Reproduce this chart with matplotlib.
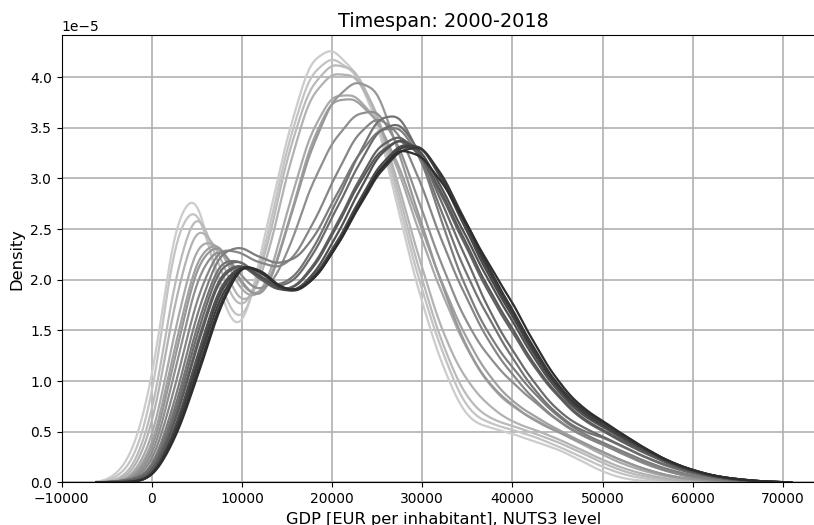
import numpy as np
import matplotlib
matplotlib.use("Agg")
import matplotlib.pyplot as plt
import seaborn as sns

# GDP per inhabitant bins (EUR) and the share of NUTS3 regions per bin,
# one row per year (units of 1e-5 per EUR, before normalisation)
income_bins = np.arange(-5000, 72500, 2500)

w2000 = [0, 0.18, 0.90, 2.62, 2.97, 1.80, 1.34, 2.43, 3.40, 4.19, 4.30, 4.07, 3.60, 2.61, 1.74, 1.07,
         0.60, 0.54, 0.48, 0.40, 0.33, 0.22, 0.10, 0.03, 0.01, 0, 0, 0, 0, 0, 0]
w2001 = [0, 0.11, 0.70, 2.51, 2.84, 1.94, 1.43, 2.29, 3.33, 4.07, 4.23, 4.08, 3.66, 2.72, 1.87, 1.21,
         0.69, 0.58, 0.52, 0.45, 0.36, 0.26, 0.15, 0.07, 0.03, 0.01, 0, 0, 0, 0, 0]
w2002 = [0, 0.05, 0.57, 2.03, 2.84, 2.10, 1.57, 2.16, 3.23, 3.93, 4.15, 4.11, 3.68, 2.80, 1.98, 1.28,
         0.80, 0.62, 0.56, 0.48, 0.40, 0.30, 0.19, 0.10, 0.05, 0.02, 0.01, 0, 0, 0, 0]
w2003 = [0, 0.03, 0.45, 1.80, 2.65, 2.28, 1.63, 2.05, 3.06, 3.84, 4.05, 4.05, 3.69, 2.89, 2.10, 1.40,
         0.98, 0.74, 0.59, 0.52, 0.43, 0.33, 0.22, 0.13, 0.07, 0.03, 0.01, 0, 0, 0, 0]
w2004 = [0, 0.01, 0.34, 1.49, 2.44, 2.38, 1.81, 1.81, 2.67, 3.45, 3.85, 3.84, 3.61, 3.06, 2.37, 1.79,
         1.29, 0.94, 0.74, 0.62, 0.50, 0.39, 0.27, 0.17, 0.10, 0.05, 0.02, 0.01, 0, 0, 0]
w2005 = [0, 0.01, 0.26, 1.32, 2.28, 2.43, 1.88, 1.80, 2.49, 3.34, 3.81, 3.80, 3.60, 3.12, 2.48, 1.89,
         1.39, 1.03, 0.79, 0.65, 0.52, 0.41, 0.30, 0.20, 0.12, 0.06, 0.03, 0.01, 0, 0, 0]
w2006 = [0, 0.01, 0.21, 1.20, 2.21, 2.41, 1.93, 1.74, 2.50, 3.26, 3.79, 3.97, 3.93, 3.22, 2.53, 1.86,
         1.29, 0.95, 0.76, 0.60, 0.50, 0.40, 0.30, 0.20, 0.12, 0.06, 0.03, 0.01, 0, 0, 0]
w2007 = [0, 0.01, 0.17, 1.06, 2.09, 2.41, 2.02, 1.85, 2.24, 2.94, 3.40, 3.68, 3.75, 3.36, 2.70, 2.08,
         1.56, 1.23, 0.99, 0.80, 0.61, 0.47, 0.38, 0.27, 0.17, 0.10, 0.05, 0.02, 0.01, 0, 0]
w2008 = [0, 0.01, 0.13, 0.91, 1.89, 2.40, 2.30, 2.18, 2.14, 2.52, 3.01, 3.48, 3.71, 3.53, 2.98, 2.33,
         1.83, 1.38, 1.08, 0.82, 0.62, 0.48, 0.38, 0.28, 0.18, 0.10, 0.05, 0.02, 0.01, 0, 0]
w2009 = [0, 0, 0.09, 0.77, 1.72, 2.34, 2.38, 2.22, 2.18, 2.36, 2.80, 3.24, 3.55, 3.60, 3.26, 2.50,
         1.90, 1.45, 1.15, 0.88, 0.66, 0.50, 0.40, 0.30, 0.20, 0.12, 0.07, 0.03, 0.01, 0, 0]
w2010 = [0, 0.02, 0.08, 0.69, 1.60, 2.29, 2.25, 2.01, 1.98, 2.28, 2.75, 3.23, 3.71, 3.76, 3.27, 2.65,
         2.07, 1.64, 1.25, 0.92, 0.68, 0.52, 0.46, 0.35, 0.24, 0.15, 0.09, 0.05, 0.02, 0.01, 0]
w2011 = [0, 0.02, 0.07, 0.62, 1.49, 2.21, 2.24, 2.00, 1.93, 2.20, 2.65, 3.10, 3.54, 3.64, 3.28, 2.72,
         2.22, 1.69, 1.32, 0.98, 0.71, 0.56, 0.46, 0.35, 0.24, 0.16, 0.09, 0.05, 0.02, 0.01, 0]
w2012 = [0, 0.01, 0.05, 0.57, 1.41, 2.15, 2.23, 2.00, 1.90, 2.11, 2.51, 2.97, 3.40, 3.54, 3.30, 2.83,
         2.35, 1.88, 1.52, 1.14, 0.87, 0.64, 0.52, 0.39, 0.28, 0.18, 0.10, 0.05, 0.02, 0.01, 0]
w2013 = [0, 0.01, 0.04, 0.55, 1.36, 2.11, 2.22, 2.01, 1.89, 2.08, 2.47, 2.93, 3.32, 3.48, 3.30, 2.85,
         2.38, 1.91, 1.55, 1.16, 0.88, 0.65, 0.53, 0.40, 0.29, 0.18, 0.10, 0.05, 0.02, 0.01, 0]
w2014 = [0, 0, 0.02, 0.49, 1.25, 2.01, 2.21, 2.04, 1.87, 2.01, 2.38, 2.83, 3.28, 3.48, 3.34, 2.89,
         2.44, 1.99, 1.62, 1.22, 0.91, 0.68, 0.56, 0.42, 0.30, 0.19, 0.11, 0.06, 0.03, 0.01, 0]
w2015 = [0, 0, 0.02, 0.46, 1.18, 1.94, 2.21, 2.07, 1.86, 1.98, 2.30, 2.72, 3.14, 3.38, 3.38, 2.97,
         2.49, 2.03, 1.66, 1.25, 0.93, 0.70, 0.57, 0.43, 0.31, 0.19, 0.11, 0.06, 0.03, 0.01, 0]
w2016 = [0, 0, 0.02, 0.45, 1.14, 1.86, 2.21, 2.08, 1.86, 1.95, 2.27, 2.68, 3.10, 3.35, 3.38, 3.00,
         2.53, 2.07, 1.69, 1.28, 0.94, 0.71, 0.58, 0.44, 0.32, 0.20, 0.12, 0.06, 0.03, 0.01, 0]
w2017 = [0, 0, 0.02, 0.42, 1.07, 1.79, 2.21, 2.09, 1.87, 1.95, 2.26, 2.66, 3.06, 3.31, 3.37, 3.02,
         2.56, 2.10, 1.72, 1.31, 0.96, 0.73, 0.60, 0.46, 0.32, 0.20, 0.12, 0.06, 0.03, 0.01, 0]
w2018 = [0, 0, 0.02, 0.39, 1.02, 1.74, 2.21, 2.07, 1.87, 1.95, 2.25, 2.66, 3.08, 3.33, 3.25, 2.94,
         2.55, 2.14, 1.79, 1.36, 1.00, 0.75, 0.61, 0.46, 0.32, 0.20, 0.12, 0.06, 0.03, 0.01, 0]

years = list(range(2000, 2019))
weights = [w2000, w2001, w2002, w2003, w2004, w2005, w2006, w2007, w2008, w2009,
           w2010, w2011, w2012, w2013, w2014, w2015, w2016, w2017, w2018]

KERNEL_SD = 1500  # EUR
greys = np.linspace(0.80, 0.18, len(years))

fig = plt.figure(figsize=(8.14, 5.25), dpi=100)
# the axes run slightly past the right edge of the canvas
ax = fig.add_axes([0.0758, 0.0813, 0.9390, 0.8520])

for yr, w, g in zip(years, weights, greys):
    w = np.asarray(w, dtype=float)
    std = np.sqrt(np.cov(income_bins, aweights=w))
    sns.kdeplot(x=income_bins, weights=w, bw_method=KERNEL_SD / std,
                clip=(-6150, 70950), gridsize=600,
                color=str(g), lw=1.6, ax=ax, label=str(yr))

ax.set_xlim(-10000, 74800)
ax.set_ylim(0, 4.416e-5)
ax.grid(True, color="#b0b0b0", lw=1.2)
ax.tick_params(labelsize=10)
ax.set_xlabel("GDP [EUR per inhabitant], NUTS3 level", fontsize=11.7)
ax.set_ylabel("Density", fontsize=11.7)
ax.set_title("Timespan: 2000-2018", fontsize=13.9)

fig.savefig("out.png", dpi=100)
